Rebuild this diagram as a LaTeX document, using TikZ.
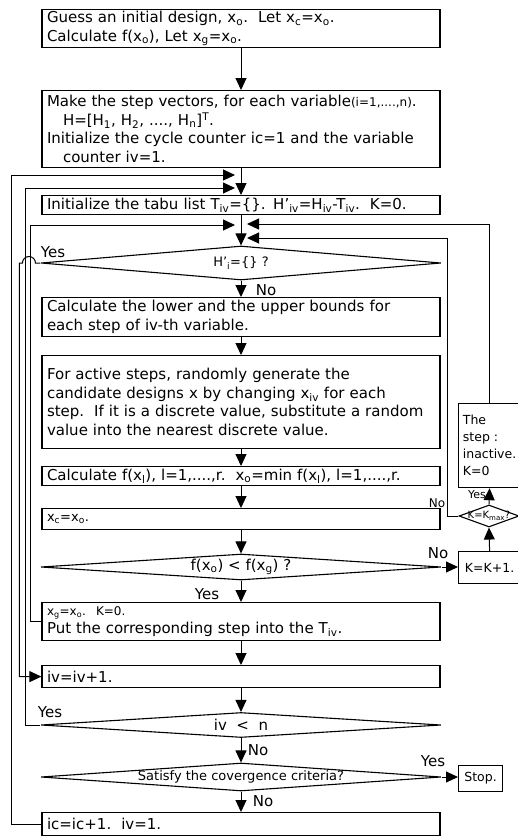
\documentclass[tikz,border=0pt]{standalone}
\usepackage{fontspec}
\setmainfont{DejaVu Sans}
\usetikzlibrary{arrows.meta,shapes.geometric}
\newcommand{\sbs}[1]{\textsubscript{#1}}

\begin{document}
\begin{tikzpicture}[x=1pt,y=-1pt,
    box/.style={draw, line width=1.2pt, anchor=north, minimum width=398pt, text width=388pt,
      inner xsep=5pt, inner ysep=1pt, align=left, font=\fontsize{15}{18.5}\selectfont},
    side/.style={draw, line width=1.2pt, anchor=north west, align=left, inner sep=2pt,
      font=\fontsize{12.5}{17}\selectfont},
    test/.style={diamond, draw, line width=1.1pt, aspect=12, inner sep=0pt,
      minimum width=400pt, font=\fontsize{13}{14}\selectfont},
    flow/.style={line width=1pt, -{Triangle[length=12pt,width=11pt]}},
    lbl/.style={inner sep=0pt, font=\fontsize{15}{16}\selectfont},
  ]
  \useasboundingbox (0,0) rectangle (518,836);

  % main column
  \node[box, minimum height=38pt] (start) at (241,9)
    {Guess an initial design, x\sbs{o}.\ \ Let x\sbs{c}=x\sbs{o}.\\
     Calculate f(x\sbs{o}), Let x\sbs{g}=x\sbs{o}.};
  \node[box, minimum height=77pt] (vec) at (241,90)
    {Make the step vectors, for each variable{\fontsize{12}{14}\selectfont(i=1,....,n)}.\\
     \hspace*{16pt}H=[H\sbs{1}, H\sbs{2}, ...., H\sbs{n}]\textsuperscript{T}.\\
     Initialize the cycle counter ic=1 and the variable\\
     \hspace*{16pt}counter iv=1.};
  \node[box, minimum height=19pt] (tabu) at (241,195)
    {Initialize the tabu list T\sbs{iv}=\{\}. H'\sbs{iv}=H\sbs{iv}-T\sbs{iv}.\ \ K=0.};
  \node[test, minimum height=34pt] (empty) at (241,263) {\makebox[0pt]{H'\sbs{i}=\{\} ?}};
  \node[box, minimum height=39pt] (bounds) at (241,297)
    {Calculate the lower and the upper bounds for\\
     each step of iv-th variable.};
  \node[box, minimum height=93pt] (cand) at (241,355)
    {For active steps, randomly generate the\\
     candidate designs x by changing x\sbs{iv} for each\\
     step.\ \ If it is a discrete value, substitute a random\\
     value into the nearest discrete value.};
  \node[box, minimum height=19pt] (eval) at (241,466)
    {Calculate f(x\sbs{l}), l=1,....,r.\ \ x\sbs{o}=min f(x\sbs{l}), l=1,....,r.};
  \node[box, minimum height=21pt, font=\fontsize{13}{15}\selectfont] (cur) at (241,508)
    {x\sbs{c}=x\sbs{o}.};
  \node[test, minimum height=26pt, font=\fontsize{15}{16}\selectfont] (better) at (241,567)
    {\makebox[0pt]{f(x\sbs{o}) < f(x\sbs{g}) ?}};
  \node[box, minimum height=38pt] (best) at (241,602)
    {{\fontsize{12}{14}\selectfont x\sbs{g}=x\sbs{o}.\ \ K=0.}\\
     Put the corresponding step into the T\sbs{iv}.};
  \node[box, minimum height=22pt] (next) at (241,665) {iv=iv+1.};
  \node[test, minimum height=25pt, font=\fontsize{15}{16}\selectfont] (more) at (241,725)
    {\makebox[0pt]{iv \ <\ \ n}};
  \node[test, minimum height=28pt] (conv) at (241,777)
    {\makebox[0pt]{Satisfy the covergence criteria?}};
  \node[box, minimum height=23pt] (cycle) at (241,812) {ic=ic+1.\ \ iv=1.};

  % right column
  \node[side, minimum width=62pt, minimum height=84pt] (inact) at (458,403)
    {The\\step :\\inactive.\\K=0};
  \node[test, aspect=2.7, minimum width=60pt, minimum height=22pt,
    font=\fontsize{10}{11}\selectfont] (kmax) at (489,516) {\makebox[0pt]{K=K\sbs{max}?}};
  \node[side, minimum width=62pt, minimum height=32pt] (inc) at (458,551) {K=K+1.};
  \node[side, minimum width=44pt, minimum height=26pt] (stop) at (458,765) {Stop.};

  % labels
  \node[lbl] (yes1) at (53,252) {Yes};
  \node[lbl] (no1) at (266,290) {No};
  \node[lbl] (no2) at (438,553) {No};
  \node[lbl, font=\fontsize{12}{13}\selectfont] (no5) at (437,503) {No};
  \node[lbl, font=\fontsize{11}{12}\selectfont] (yes5) at (477,495) {Yes};
  \node[lbl] (yes2) at (207,594) {Yes};
  \node[lbl] (yes3) at (50,712) {Yes};
  \node[lbl] (no3) at (258,750) {No};
  \node[lbl] (yes4) at (433,761) {Yes};
  \node[lbl] (no4) at (263,801) {No};

  % straight flow
  \draw[flow] (start.south) -- (vec.north);
  \draw[flow] (vec.south) -- (tabu.north);
  \draw[flow] (tabu.south) -- (empty.north);
  \draw[flow] (empty.south) -- (bounds.north);
  \draw[flow] (bounds.south) -- (cand.north);
  \draw[flow] (cand.south) -- (eval.north);
  \draw[flow] (eval.south) -- (cur.north);
  \draw[flow] (cur.south) -- (better.north);
  \draw[flow] (better.south) -- (best.north);
  \draw[flow] (best.south) -- (next.north);
  \draw[flow] (next.south) -- (more.north);
  \draw[flow] (more.south) -- (conv.north);
  \draw[flow] (conv.south) -- (cycle.north);
  \draw[flow] (better.east) -- (better.east -| inc.west);
  \draw[flow] (inc.north) -- (kmax.south);
  \draw[flow] (kmax.north) -- (inact.south);
  \draw[flow] (conv.east) -- (conv.east -| stop.west);

  % loops back
  \coordinate (j1) at (235,175);
  \coordinate (j2) at (235,188);
  \coordinate (j3) at (235,225);
  \coordinate (j4) at (247,224);
  \coordinate (j5) at (247,238);
  \draw[flow] (cycle.west) -- ++(-30,0) |- (j1);
  \draw[flow] (more.west) -- ++(-15,0) |- (j2);
  \draw[flow] (best.west) -- ++(-11,0) |- (j3);
  \draw[flow] (empty.west) -- ++(-5,0) arc[start angle=0,end angle=180,radius=6.5pt]
    -- ++(-3,0) |- (next.west);
  \draw[flow] (inact.north) |- (j4);
  \draw[flow] (kmax.west) -- ++(-11,0) |- (j5);
\end{tikzpicture}
\end{document}
